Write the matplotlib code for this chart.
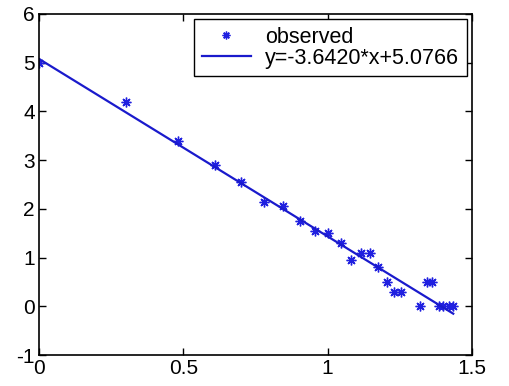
import numpy as np
import matplotlib.pyplot as plt

# observed data points
x_obs = [0.0, 0.30, 0.48, 0.61, 0.70, 0.78, 0.845, 0.905, 0.955, 1.0,
         1.045, 1.08, 1.115, 1.145, 1.175, 1.205, 1.23, 1.255, 1.32, 1.345,
         1.36, 1.385, 1.40, 1.42, 1.435]
y_obs = [5.0, 4.2, 3.4, 2.9, 2.55, 2.15, 2.05, 1.75, 1.55, 1.5,
         1.3, 0.95, 1.1, 1.1, 0.8, 0.5, 0.3, 0.3, 0.0, 0.5,
         0.5, 0.0, 0.0, 0.0, 0.0]

# fitted line coefficients
slope = -3.6420
intercept = 5.0766

plt.rcParams['font.family'] = ['Liberation Sans', 'DejaVu Sans']
plt.rcParams['axes.unicode_minus'] = False

fig = plt.figure(figsize=(5.1, 3.86), dpi=100)
ax = fig.add_axes([0.0765, 0.080, 0.849, 0.884])

x_fit = np.array([min(x_obs), max(x_obs)])
y_fit = slope * x_fit + intercept

blue = '#1a1acc'
ax.plot(x_obs, y_obs, linestyle='none', marker=(8, 2, 0), markersize=7,
        markeredgewidth=1.0, color='#2020e0', label='observed')
ax.plot(x_fit, y_fit, color=blue, linewidth=1.6,
        label=f'y={slope:.4f}*x+{intercept:.4f}')

ax.set_xlim(0, 1.5)
ax.set_ylim(-1, 6)
ax.set_xticks([0, 0.5, 1, 1.5])
ax.set_xticklabels(['0', '0.5', '1', '1.5'])
ax.set_yticks(range(-1, 7))
ax.tick_params(direction='in', top=True, right=True, length=5, width=1,
               labelsize=15, pad=3, colors='black')
for s in ax.spines.values():
    s.set_linewidth(1.2)

leg = ax.legend(loc='upper right', fontsize=15.5, frameon=True, fancybox=False,
                edgecolor='black', framealpha=1, borderpad=0.35,
                handlelength=2.3, labelspacing=0.0, borderaxespad=0.25,
                handletextpad=0.65, numpoints=1, markerscale=0.8)
leg.get_frame().set_linewidth(1.0)

fig.savefig('out.png', dpi=100)
